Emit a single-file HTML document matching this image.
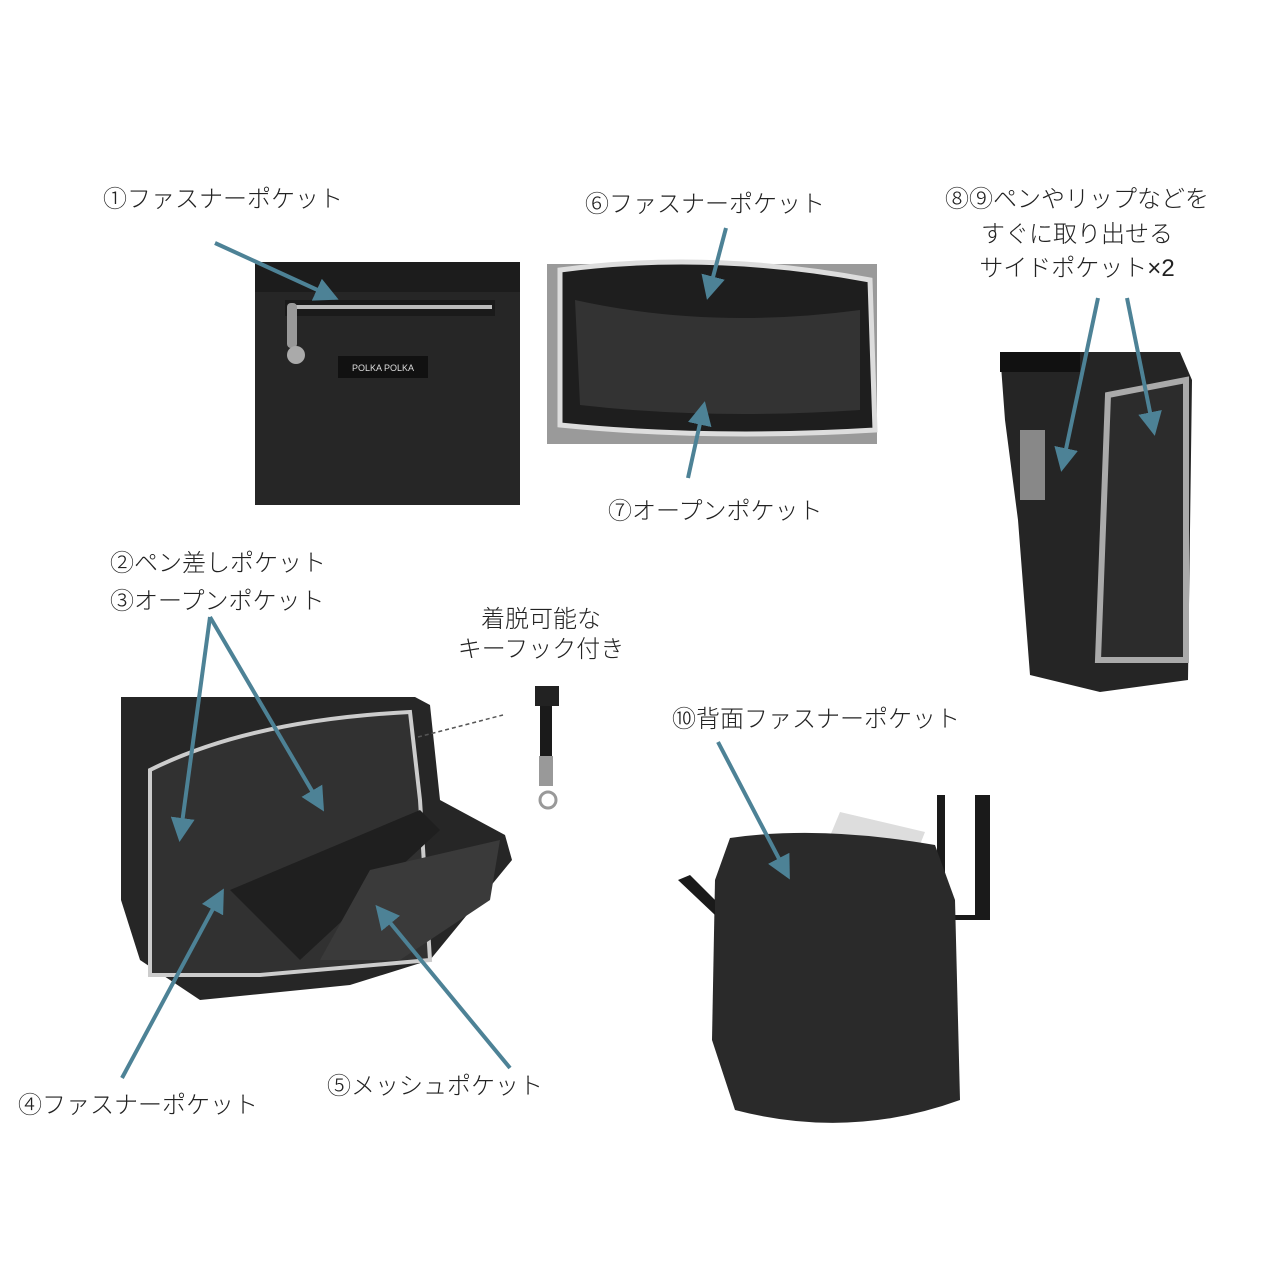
<!DOCTYPE html>
<html><head><meta charset="utf-8"><style>
html,body{margin:0;padding:0;background:#fff}
svg{display:block}
text{font-family:"Liberation Sans","Noto Sans CJK JP",sans-serif;font-size:24px;fill:#222;font-weight:300}
</style></head><body>
<svg width="1285" height="1284" viewBox="0 0 1285 1284" xmlns="http://www.w3.org/2000/svg">
<defs>
<marker id="ah" markerWidth="6" markerHeight="6" refX="5" refY="3" orient="auto" markerUnits="strokeWidth">
<path d="M0,0 L6,3 L0,6 z" fill="#4d8296"/></marker>
</defs>
<rect width="1285" height="1284" fill="#fff"/>

<!-- Photo 1 -->
<rect x="255" y="262" width="265" height="243" fill="#262626"/>
<rect x="255" y="262" width="265" height="30" fill="#1c1c1c"/>
<rect x="285" y="300" width="210" height="16" fill="#1a1a1a"/>
<line x1="292" y1="307" x2="492" y2="307" stroke="#bbb" stroke-width="4"/>
<rect x="287" y="303" width="10" height="45" rx="4" fill="#999"/>
<circle cx="296" cy="355" r="9" fill="#aaa"/>
<rect x="338" y="356" width="90" height="22" fill="#111"/>
<text x="383" y="371" font-size="9" text-anchor="middle" style="fill:#ddd;font-size:9px">POLKA POLKA</text>

<!-- Photo 2 -->
<rect x="547" y="264" width="330" height="180" fill="#9a9a9a"/>
<path d="M560 270 Q710 250 870 280 L875 430 Q710 440 560 425 Z" fill="#1e1e1e" stroke="#ddd" stroke-width="5"/>
<path d="M575 300 Q710 330 860 310 L860 410 Q710 420 580 405 Z" fill="#333"/>

<!-- Photo 3 -->
<path d="M1000 352 L1180 352 L1192 380 L1188 680 L1100 692 L1030 675 L1018 520 L1005 420 Z" fill="#252525"/>
<path d="M1000 352 L1080 352 L1080 372 L1000 372 Z" fill="#111"/>
<path d="M1108 395 L1186 380 L1186 660 L1098 660 Z" fill="#2c2c2c" stroke="#aaa" stroke-width="6"/>
<rect x="1020" y="430" width="25" height="70" fill="#ccc" opacity="0.6"/>

<!-- Photo 4 -->
<path d="M121 697 L415 697 L430 705 L440 800 L505 835 L512 860 L430 960 L350 985 L200 1000 L140 960 L121 900 Z" fill="#262626"/>
<path d="M150 770 Q250 720 410 712 L420 800 L430 960 L260 975 L150 975 Z" fill="#313131" stroke="#ccc" stroke-width="4"/>
<path d="M230 890 L420 810 L440 830 L300 960 Z" fill="#1f1f1f"/>
<path d="M370 870 L500 840 L490 900 L400 960 L320 960 Z" fill="#3a3a3a"/>
<line x1="418" y1="737" x2="503" y2="715" stroke="#555" stroke-width="1.5" stroke-dasharray="4,3"/>

<!-- Keyhook -->
<rect x="535" y="686" width="24" height="20" fill="#222"/>
<rect x="540" y="706" width="12" height="50" fill="#1a1a1a"/>
<rect x="539" y="756" width="14" height="30" fill="#999"/>
<circle cx="548" cy="800" r="8" fill="none" stroke="#999" stroke-width="3"/>

<!-- Photo 5 -->
<rect x="937" y="795" width="53" height="125" fill="#1a1a1a"/>
<rect x="945" y="795" width="30" height="120" fill="#fff"/>
<path d="M820 860 L840 812 L925 832 L910 870 Z" fill="#ddd"/>
<path d="M730 838 Q820 825 935 845 L955 900 L960 1100 Q850 1140 735 1110 L712 1040 L715 880 Z" fill="#2a2a2a"/>
<path d="M678 880 L715 915 L715 900 L690 875 Z" fill="#1a1a1a"/>

<!-- Arrows -->
<g stroke="#4d8296" stroke-width="4" fill="none" marker-end="url(#ah)">
<line x1="215" y1="243" x2="335" y2="298"/>
<line x1="726" y1="228" x2="708" y2="296"/>
<line x1="688" y1="478" x2="704" y2="405"/>
<line x1="1098" y1="298" x2="1062" y2="468"/>
<line x1="1127" y1="298" x2="1154" y2="432"/>
<line x1="210" y1="617" x2="180" y2="838"/>
<line x1="210" y1="617" x2="322" y2="808"/>
<line x1="122" y1="1078" x2="222" y2="892"/>
<line x1="510" y1="1068" x2="378" y2="908"/>
<line x1="718" y1="742" x2="788" y2="876"/>
</g>

<!-- Labels -->
<text x="103" y="207">①ファスナーポケット</text>
<text x="585" y="212">⑥ファスナーポケット</text>
<text x="608" y="519">⑦オープンポケット</text>
<text x="1077" y="207" text-anchor="middle">⑧⑨ペンやリップなどを</text>
<text x="1077" y="242" text-anchor="middle">すぐに取り出せる</text>
<text x="1077" y="276" text-anchor="middle">サイドポケット×2</text>
<text x="110" y="571">②ペン差しポケット</text>
<text x="110" y="609">③オープンポケット</text>
<text x="541" y="627" text-anchor="middle">着脱可能な</text>
<text x="541" y="657" text-anchor="middle">キーフック付き</text>
<text x="672" y="727">⑩背面ファスナーポケット</text>
<text x="18" y="1113">④ファスナーポケット</text>
<text x="327" y="1094">⑤メッシュポケット</text>
</svg>
</body></html>
